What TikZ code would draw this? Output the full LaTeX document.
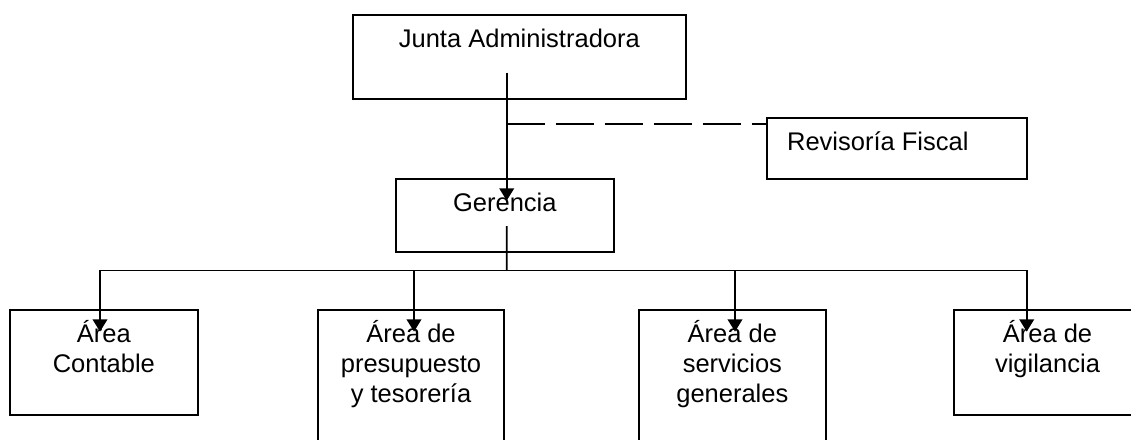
\documentclass[tikz,border=0pt]{standalone}
\usepackage{fontspec}
\setmainfont{Liberation Sans}
\usepackage{tikz}
\usetikzlibrary{arrows.meta}
\tikzset{
  orgunit/.style={draw, line width=2.2pt, inner sep=0pt},
  orgtext/.style={font=\fontsize{25.5}{30}\selectfont, inner sep=0pt, anchor=north, align=center},
  orgline/.style={line width=1.7pt},
  orgarrow/.style={line width=1.7pt, -{Triangle[length=12.3pt,width=14.7pt]}},
  orgdash/.style={line width=1.7pt, dash pattern=on 38pt off 11pt}
}
\newcommand{\orgbox}[5] {\node at (#1) (#2) [orgunit, minimum width=#3, minimum height=#4] {}; \node at ([yshift=-9.5pt]#2.north) (#2-text) [orgtext] {\rule{0pt}{24pt}#5};}
\newcommand{\orglink}[2] {\draw [orgarrow] (bus) -| ([xshift=#2pt,yshift=-22.7pt]#1.north);}

\begin{document}
\begin{tikzpicture}[x=1pt, y=-1pt]
\useasboundingbox (0,0) rectangle (1131,439);
\orgbox {519.35,56.85} {junta} {333.3pt} {83.7pt} {Junta Administradora};
\node at (897,148.65) (revisoria) [orgunit, minimum width=259.4pt, minimum height=60.7pt] {};
\node at ([xshift=20.7pt,yshift=-9.5pt]revisoria.north west) (revisoria-text) [orgtext, anchor=north west] {\rule{0pt}{24pt}Revisoría Fiscal};
\orgbox {504.85,215.65} {gerencia} {218.3pt} {73.3pt} {Gerencia};

\orgbox {103.85,362.5} {contable} {187.7pt} {105pt} {Área\\Contable};
\orgbox {411,385} {presupuesto} {186.6pt} {150pt} {Área de\\presupuesto\\y tesorería};
\orgbox {732.35,385} {servicios} {186.7pt} {150pt} {Área de\\servicios\\generales};
\orgbox {1047.5,362.5} {vigilancia} {187pt} {105pt} {Área de\\vigilancia};

\draw [orgarrow] ([xshift=-12.65pt,yshift=-15.85pt]junta.center) -- ([xshift=1.85pt,yshift=-22.7pt]gerencia.north);
\coordinate (dash) at (506.7,124);
\draw [orgdash] (dash) -- (dash -| revisoria.west);

\coordinate (bus) at (506.7,270.5);
\draw [orgline] ([xshift=1.85pt,yshift=-10.35pt]gerencia.center) -- (bus);
\orglink {contable}{-3.85};
\orglink {presupuesto}{3};
\orglink {servicios}{2.65};
\orglink {vigilancia}{-20.8};
\end{tikzpicture}
\end{document}
